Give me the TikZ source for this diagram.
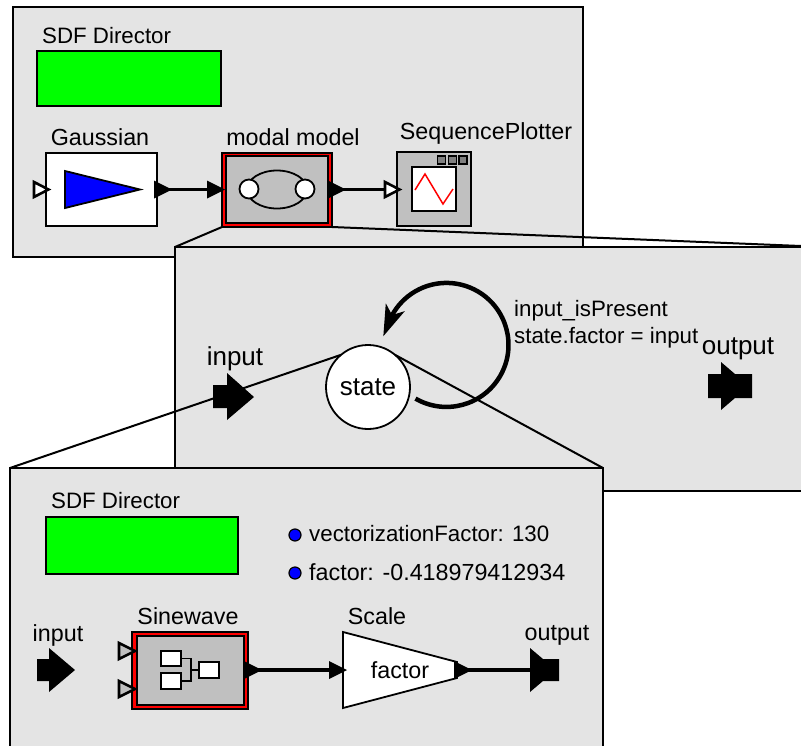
\documentclass[tikz,border=0pt]{standalone}
\usepackage{fontspec}
\setmainfont{Liberation Sans}
\usetikzlibrary{arrows.meta}
\definecolor{panelgray}{HTML}{E4E4E4}
\definecolor{boxgray}{HTML}{C0C0C0}
\definecolor{knobgray}{HTML}{808080}
\tikzset{
  panel/.style={draw, fill=panelgray, line width=2.2, rectangle, outer sep=0, inner sep=0},
  box/.style={draw, line width=1.8, rectangle, outer sep=0, inner sep=0},
  director/.style={box, line width=1.5, fill=green},
  lab/.style={inner sep=0, font=\fontsize{23.3}{27}\selectfont},
  smalllab/.style={inner sep=0, font=\fontsize{22.3}{26}\selectfont},
  biglab/.style={inner sep=0, font=\fontsize{26}{30}\selectfont},
  wire/.style={line width=3.5},
  zoomline/.style={line width=2},
  openport/.pic={\draw[fill=white, line width=2.6] (-7,-7.5) -- (7.5,0) -- (-7,7.5) -- cycle;},
  grayport/.pic={\draw[fill=boxgray, line width=2.6] (-7,-8) -- (9,0) -- (-7,8) -- cycle;},
  blackport/.pic={\fill (-9,-9) -- (9,0) -- (-9,9) -- cycle;},
  dot/.style={draw, fill=blue, circle, line width=1.2, minimum size=12, inner sep=0},
}
\begin{document}
\begin{tikzpicture}[x=1pt,y=-1pt]
  \path[use as bounding box, clip] (0,0) rectangle (801,745);

  % outer model
  \node (toppanel) at (298,132) [panel, minimum width=570, minimum height=250]{};
  \node at (42,36) [smalllab, anchor=west]{SDF Director};
  \node (topdirector) at (129,78.5) [director, minimum width=184, minimum height=55]{};

  \node (gaussian) at (101.5,189.5) [box, fill=white, minimum width=111, minimum height=73]{};
  \node at (100,137) [lab]{Gaussian};
  \draw[fill=blue, line width=1.8] (65,171) -- (140,189.5) -- (65,208) -- cycle;
  \pic at (41,189.5) {openport};

  \node (modal) at (277,190) [box, fill=red, minimum width=110, minimum height=74]{};
  \node (modalin) at (277,189.5) [box, fill=boxgray, minimum width=102, minimum height=67]{};
  \node at (293,137) [lab]{modal model};
  \draw[line width=1.8] (277,189.5) ellipse [x radius=30, y radius=19];
  \node (mleft) at (249,189) [box, fill=white, circle, minimum size=19]{};
  \node (mright) at (305,189) [box, fill=white, circle, minimum size=19]{};

  \node (plotter) at (434,189) [box, line width=2, fill=boxgray, minimum width=74, minimum height=74]{};
  \node at (486,133) [lab]{SequencePlotter};
  \node (plot) at (434,189) [box, fill=white, minimum width=44, minimum height=44]{};
  \foreach \x in {441.5,452.5,463} {
    \node at (\x,160) [box, fill=knobgray, minimum width=8, minimum height=8]{};
  }
  \draw[red, line width=1.5] (415,190) -- (425,174) -- (443,204) -- (453,189);

  \coordinate (gaussout) at (163,189.5);
  \coordinate (modalport) at (216,189.5);
  \coordinate (modalout) at (337,189.5);
  \coordinate (plotterport) at (392,189.5);
  \draw[wire] (gaussout) -- (modalport);
  \draw[wire] (modalout) -- (plotterport);
  \pic at (gaussout) {blackport};
  \pic at (modalport) {blackport};
  \pic at (modalout) {blackport};
  \pic at (plotterport) {openport};

  % modal model
  \coordinate (zoomright) at (801,246);
  \draw[zoomline] (modal.south east) -- (zoomright);
  \node (midpanel) at (515,369) [panel, minimum width=680, minimum height=244]{};
  \draw[zoomline] (modal.south west) -- (midpanel.north west);

  \node at (235,359) [biglab]{input};
  \node at (738,349) [biglab]{output};
  \fill (213,385) -- (227,385) -- (227,373) -- (254,397) -- (227,420) -- (227,408) -- (213,408) -- cycle;
  \fill (708,374) -- (721,374) -- (721,362) -- (735,374) -- (752,374) -- (752,398) -- (735,398) -- (721,410) -- (721,398) -- (708,398) -- cycle;

  \node (looptip) at (383,337) [inner sep=0]{};
  \draw[line width=4.5, -{Stealth[length=31, width=20, inset=8]}] (415.5,398.6) arc[start angle=120, end angle=-152, radius=62] -- (looptip);
  \node (state) at (368,387) [box, fill=white, circle, minimum size=84]{};
  \node at (368,387) [biglab]{state};
  \node at (514,311) [smalllab, anchor=west]{input\_isPresent};
  \node at (514,338) [smalllab, anchor=west]{state.factor = input};

  % inner model
  \node (botpanel) at (306.5,618.5) [panel, minimum width=593, minimum height=301]{};
  \draw[zoomline] (state.130) -- (botpanel.north west);
  \draw[zoomline] (state.50) -- (botpanel.north east);

  \node at (51,501) [smalllab, anchor=west]{SDF Director};
  \node (botdirector) at (142,545.5) [director, minimum width=192, minimum height=57]{};
  \node (dota) at (295,535) [dot]{};
  \node (dotb) at (295,573) [dot]{};
  \node at (309,534) [smalllab, anchor=west]{vectorizationFactor: 130};
  \node at (309,572) [lab, anchor=west]{factor: -0.418979412934};

  \node at (58,635) [lab]{input};
  \fill (37,659) -- (49,659) -- (49,648) -- (75,670) -- (49,692) -- (49,681) -- (37,681) -- cycle;

  \node (sine) at (190,670.5) [box, fill=red, minimum width=116, minimum height=77]{};
  \node (sinein) at (190.5,670.5) [box, fill=boxgray, minimum width=107, minimum height=69]{};
  \node at (188,616) [lab]{Sinewave};
  \node (suba) at (171,658.5) [box, fill=white, minimum width=20, minimum height=15]{};
  \node (subb) at (171,681) [box, fill=white, minimum width=20, minimum height=16]{};
  \node (subc) at (209,670) [box, fill=white, minimum width=20, minimum height=16]{};
  \coordinate (subjoin) at (191,670);
  \draw[line width=1.8] (suba.east) -| (subjoin);
  \draw[line width=1.8] (subb.east) -| (subjoin);
  \draw[line width=1.8] (subjoin) -- (subc.west);
  \pic at (126,651) {grayport};
  \pic at (126,689) {grayport};

  \node at (377,616) [lab]{Scale};
  \draw[fill=white, line width=1.8] (343,632) -- (457,662) -- (457,678) -- (343,708) -- cycle;
  \node at (400,670) [lab]{factor};
  \node at (557,635) [lab]{output};
  \fill (530,648) -- (543,659) -- (559,659) -- (559,681) -- (543,681) -- (530,692) -- cycle;

  \coordinate (sineout) at (253,670);
  \coordinate (scalein) at (338,670);
  \coordinate (scaleout) at (463,670);
  \coordinate (outport) at (535,670);
  \draw[wire] (sineout) -- (scalein);
  \draw[wire] (scaleout) -- (outport);
  \pic at (sineout) {blackport};
  \pic at (scalein) {blackport};
  \pic at (scaleout) {blackport};
\end{tikzpicture}
\end{document}
